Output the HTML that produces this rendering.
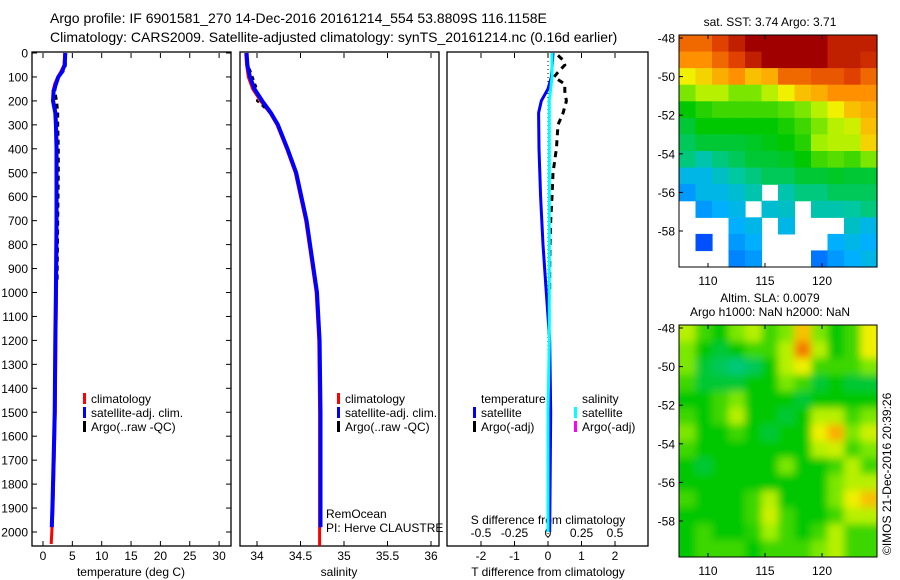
<!DOCTYPE html>
<html><head><meta charset="utf-8"><style>
body{margin:0;background:#fff;}
svg{display:block;font-family:"Liberation Sans",sans-serif;}
text{font-size:12px;fill:#000;}
</style></head><body>
<svg id="chart" width="900" height="580" viewBox="0 0 900 580">
<defs>
<filter id="blur" x="-5%" y="-5%" width="110%" height="110%"><feGaussianBlur stdDeviation="4"/></filter>
<clipPath id="slaclip"><rect x="679" y="325" width="198" height="232"/></clipPath>
</defs>
<text x="50" y="23" style="font-size:14px">Argo profile: IF 6901581_270 14-Dec-2016 20161214_554 53.8809S 116.1158E</text>
<text x="50" y="42" style="font-size:14px">Climatology: CARS2009. Satellite-adjusted climatology: synTS_20161214.nc (0.16d earlier)</text>
<g id="g"></g>
</svg>
<script>
// ---- profile data ----
const tDepth=[0,50,80,100,130,160,200,250,300,400,500,700,1000,1200,1500,1700,1900,2050];
const tempSat=[3.8,3.7,3.2,2.6,2.2,1.8,1.7,2.1,2.2,2.3,2.3,2.3,2.2,2.1,2.0,1.8,1.6,1.5];
const tempClim=[3.7,3.6,3.0,2.5,2.0,1.7,1.8,2.2,2.3,2.4,2.4,2.4,2.3,2.2,2.1,1.9,1.7,1.4];
const argoDepth=[0,50,70,90,130,160,200,250,300,400,500,700,960];
const argoTemp=[3.8,3.8,3.7,2.8,2.2,2.0,2.3,2.5,2.5,2.6,2.6,2.5,2.4];
const sDepth=[0,50,100,150,200,250,300,400,500,700,1000,1200,1500,1980];
const salSat=[33.88,33.89,33.92,33.97,34.06,34.16,34.24,34.35,34.45,34.57,34.69,34.72,34.73,34.73];
const salClim=[33.87,33.88,33.9,33.95,34.04,34.15,34.23,34.34,34.44,34.56,34.68,34.71,34.72,34.72];
const argoSal=[33.88,33.9,33.95,34.0,34.0,34.15,34.24,34.36,34.46,34.57,34.68];
const argoSalDepth=[0,50,100,150,200,250,300,400,500,700,1000];
const dDepth=[0,100,150,200,250,400,600,800,1000,1200,1500,2000];
const tDiffSat=[0.15,0.1,0,-0.2,-0.28,-0.27,-0.22,-0.15,-0.05,0.05,0.08,0.05];
const sDiffSat=[0.03,0.03,0.02,0.01,0.01,0.01,0.01,0.01,0.01,0.01,0.0,0.0];
const aDiffDepth=[10,30,50,80,100,130,160,200,250,300,400,500,600,700,800,900,1000];
const tDiffArgo=[0.3,0.45,0.5,0.3,0.18,0.5,0.5,0.55,0.45,0.3,0.25,0.15,0.12,0.08,0.06,0.05,0.05];
const depthTicks=[0,100,200,300,400,500,600,700,800,900,1000,1100,1200,1300,1400,1500,1600,1700,1800,1900,2000];
const tempTicks=[0,5,10,15,20,25,30];
const salTicks=[34,34.5,35,35.5,36];
const tDiffTicks=[-2,-1,0,1,2];
const sDiffTicks=["-0.5","-0.25","0","0.25","0.5"];
// ---- map data ----
const latTicks=[-48,-50,-52,-54,-56,-58];
const lonTicks=[110,115,120];
const sstGrid=[
[0.8,0.8,0.85,0.9,0.95,0.95,0.95,0.95,0.95,0.9,0.9,0.9],
[0.75,0.75,0.8,0.85,0.9,0.95,0.95,0.95,0.95,0.9,0.9,0.88],
[0.65,0.68,0.72,0.75,0.7,0.72,0.8,0.8,0.82,0.82,0.85,0.8],
[0.55,0.6,0.6,0.55,0.55,0.6,0.65,0.7,0.72,0.75,0.75,0.75],
[0.45,0.48,0.5,0.5,0.5,0.5,0.52,0.55,0.6,0.65,0.7,0.72],
[0.42,0.45,0.45,0.45,0.45,0.45,0.47,0.5,0.55,0.6,0.62,0.7],
[0.4,0.42,0.42,0.42,0.43,0.44,0.45,0.48,0.58,0.6,0.6,0.68],
[0.38,0.35,0.38,0.4,0.42,0.42,0.43,0.45,0.5,0.52,0.5,0.55],
[0.3,0.3,0.33,0.36,0.38,0.4,0.4,0.42,0.42,0.43,0.42,0.42],
[0.25,0.3,0.3,0.32,0.35,null,0.35,0.38,0.38,0.4,0.4,0.4],
[null,0.25,0.28,0.3,null,0.32,0.33,null,0.35,0.35,0.36,0.38],
[null,null,null,0.28,0.3,null,0.3,null,null,null,0.33,0.3],
[null,0.15,null,0.25,0.28,null,null,null,null,0.28,0.3,0.28],
[null,null,null,0.22,0.25,null,null,null,0.2,0.25,0.28,0.3]];
const slaGrid=[
[0.6,0.5,0.45,0.55,0.6,0.5,0.55,0.7,0.55,0.45,0.5,0.65],
[0.55,0.45,0.42,0.45,0.5,0.5,0.6,0.78,0.6,0.45,0.5,0.65],
[0.55,0.42,0.4,0.38,0.4,0.45,0.6,0.65,0.5,0.5,0.5,0.55],
[0.5,0.42,0.42,0.42,0.45,0.45,0.55,0.5,0.42,0.45,0.42,0.42],
[0.45,0.45,0.5,0.55,0.45,0.45,0.45,0.42,0.45,0.45,0.45,0.45],
[0.5,0.45,0.5,0.6,0.45,0.45,0.42,0.45,0.6,0.6,0.5,0.55],
[0.55,0.45,0.45,0.5,0.45,0.42,0.45,0.45,0.65,0.72,0.55,0.62],
[0.5,0.45,0.45,0.45,0.45,0.45,0.45,0.45,0.6,0.62,0.5,0.55],
[0.45,0.42,0.45,0.45,0.45,0.45,0.55,0.45,0.45,0.5,0.6,0.5],
[0.45,0.45,0.45,0.45,0.45,0.45,0.45,0.45,0.45,0.55,0.6,0.6],
[0.5,0.45,0.45,0.45,0.5,0.6,0.45,0.45,0.45,0.55,0.65,0.7],
[0.45,0.45,0.45,0.45,0.5,0.62,0.5,0.45,0.45,0.5,0.6,0.6],
[0.45,0.5,0.45,0.45,0.48,0.58,0.5,0.45,0.5,0.6,0.5,0.5],
[0.45,0.5,0.5,0.5,0.45,0.5,0.5,0.5,0.55,0.6,0.5,0.5]];

const NS="http://www.w3.org/2000/svg";
const G=document.getElementById('g');
function mk(tag,attrs,parent,txt){const e=document.createElementNS(NS,tag);for(const k in attrs)e.setAttribute(k,attrs[k]);if(txt!==undefined)e.textContent=txt;(parent||G).appendChild(e);return e;}
const TOP=53,BOT=546;
const yD=d=>53+d*0.2395;
const xT=v=>43+v*5.87;
const xS=v=>257+(v-34)*87;
const xTd=v=>548+v*33.5;
const xSd=v=>548+v*134;

function frame(x0,x1,name){
  const r=mk('rect',{x:x0,y:TOP-1,width:x1-x0,height:BOT-TOP+1,fill:'none',stroke:'#000','stroke-width':1.3});
  
  
}
function line(xs,ds,fx,color,w,dash,name){
  const p=xs.map((v,i)=>fx(v).toFixed(1)+','+yD(ds[i]).toFixed(1)).join(' ');
  const a={points:p,fill:'none',stroke:color,'stroke-width':w};
  if(dash)a['stroke-dasharray']=dash;
  const e=mk('polyline',a);
  
  
}
function xticks(vals,fx,labels,ylab,x0,x1,name){
  vals.forEach((v,i)=>{const x=fx(v);
    mk('line',{x1:x,x2:x,y1:BOT,y2:BOT-5,stroke:'#000'});
    mk('line',{x1:x,x2:x,y1:TOP,y2:TOP+5,stroke:'#000'});
    const t=mk('text',{x:x,y:ylab,'text-anchor':'middle'},G,labels?labels[i]:String(v));
    
    
  });
}
frame(32,231,'temperature-panel');frame(240,439,'salinity-panel');frame(447,648,'difference-panel');
depthTicks.forEach(d=>{const y=yD(d);
  mk('line',{x1:32,x2:37,y1:y,y2:y,stroke:'#000'});mk('line',{x1:226,x2:231,y1:y,y2:y,stroke:'#000'});
  const t=mk('text',{x:28,y:y+4.5,'text-anchor':'end'},G,String(d));
  
  
});
xticks(tempTicks,xT,null,560,32,231,'temperature');
xticks(salTicks,xS,null,560,240,439,'salinity');
xticks(tDiffTicks,xTd,null,560,447,648,'t-diff');
sDiffTicks.forEach((s,i)=>{const t=mk('text',{x:xSd(parseFloat(s)),y:537,'text-anchor':'middle'},G,s);
  
  });
[['temperature (deg C)',131,'temperature-axis-title'],['salinity',339,'salinity-axis-title'],['T difference from climatology',548,'t-diff-axis-title']].forEach(a=>{
  const t=mk('text',{x:a[1],y:576,'text-anchor':'middle'},G,a[0]);
  
  });
{const t=mk('text',{x:548,y:524,'text-anchor':'middle'},G,'S difference from climatology');
 }
line(tempClim,tDepth,xT,'#f00',3,null,'temp-climatology-line');
line(argoTemp,argoDepth,xT,'#000',3,'5,4','temp-argo-line');
line(tempSat,tDepth.slice(0,17).concat([1980]),xT,'#00f',4,null,'temp-satellite-line');
line(salClim,sDepth.slice(0,13).concat([2058]),xS,'#f00',3,null,'sal-climatology-line');
line(argoSal,argoSalDepth,xS,'#000',2,'4,4','sal-argo-line');
line(salSat,sDepth,xS,'#00f',4,null,'sal-satellite-line');
mk('line',{x1:548,x2:548,y1:TOP,y2:BOT,stroke:'#000','stroke-dasharray':'1,3'});
line(tDiffArgo,aDiffDepth,xTd,'#000',3,'6,5','t-diff-argo-line');
line(tDiffSat,dDepth,xTd,'#00f',3,null,'t-diff-satellite-line');
line(sDiffSat,dDepth,xSd,'#0ff',3,null,'s-diff-satellite-line');
function leg(x,y,color,label,name){
  mk('rect',{x:x,y:y-10,width:3,height:11,fill:color});
  const t=mk('text',{x:x+8,y:y},G,label);
  
  
}
leg(83,403,'#f00','climatology','legend-temp-climatology');
leg(83,417,'#00f','satellite-adj. clim.','legend-temp-satellite');
leg(83,431,'#000','Argo(..raw -QC)','legend-temp-argo');
leg(337,403,'#f00','climatology','legend-sal-climatology');
leg(337,417,'#00f','satellite-adj. clim.','legend-sal-satellite');
leg(337,431,'#000','Argo(..raw -QC)','legend-sal-argo');
{const t=mk('text',{x:481,y:403},G,'temperature');}
{const t=mk('text',{x:582,y:403},G,'salinity');}
leg(473,417,'#00f','satellite','legend-tdiff-satellite');
leg(473,431,'#000','Argo(-adj)','legend-tdiff-argo');
leg(574,417,'#0ff','satellite','legend-sdiff-satellite');
leg(574,431,'#f0f','Argo(-adj)','legend-sdiff-argo');
{const t=mk('text',{x:326,y:518},G,'RemOcean');}
{const t=mk('text',{x:326,y:532},G,'PI: Herve CLAUSTRE');}
const stops=[[0,[0,0,128]],[0.15,[0,80,255]],[0.28,[0,176,255]],[0.36,[0,200,160]],[0.45,[0,200,0]],[0.58,[160,240,0]],[0.65,[240,240,0]],[0.75,[255,144,0]],[0.85,[224,64,0]],[0.95,[160,0,0]],[1,[140,0,0]]];
function cmap(v){for(let i=1;i<stops.length;i++){if(v<=stops[i][0]){const a=stops[i-1],b=stops[i];const f=(v-a[0])/(b[0]-a[0]);const c=a[1].map((q,k)=>Math.round(q+(b[1][k]-q)*f));return 'rgb('+c.join(',')+')';}}return 'rgb(140,0,0)';}
function drawMap(grid,x0,x1,y0,y1,latRef,name,smooth){
  const rows=grid.length,cols=grid[0].length,cw=(x1-x0)/cols,ch=(y1-y0)/rows;
  let gm=mk('g',smooth?{'clip-path':'url(#slaclip)'}:{});
  
  
  let inner=gm;
  if(smooth){inner=mk('g',{filter:'url(#blur)'},gm);
    mk('rect',{x:x0-10,y:y0-10,width:x1-x0+20,height:y1-y0+20,fill:cmap(0.45)},inner);}
  grid.forEach((row,r)=>row.forEach((v,c)=>{if(v===null)return;
    const pad=smooth?6:0;
    const cell=mk('rect',{x:(x0+c*cw-(c===0?pad:0)).toFixed(1),y:(y0+r*ch-(r===0?pad:0)).toFixed(1),width:(cw+0.6+(c===0||c===cols-1?pad:0)).toFixed(1),height:(ch+0.6+(r===0||r===rows-1?pad:0)).toFixed(1),fill:cmap(v)},inner);
    
    
  }));
  mk('rect',{x:x0,y:y0,width:x1-x0,height:y1-y0,fill:'none',stroke:'#000','stroke-width':1});
  const fy=la=>latRef+(-48-la)*19.3;
  const fx=lo=>708+(lo-110)*11.4;
  latTicks.forEach(la=>{const y=fy(la);mk('line',{x1:x0,x2:x0+4,y1:y,y2:y,stroke:'#000'});
    const t=mk('text',{x:x0-4,y:y+4.5,'text-anchor':'end'},G,String(la));
    });
  lonTicks.forEach(lo=>{const x=fx(lo);mk('line',{x1:x,x2:x,y1:y1,y2:y1-4,stroke:'#000'});mk('line',{x1:x,x2:x,y1:y0,y2:y0+4,stroke:'#000'});
    const t=mk('text',{x:x,y:y1+18,'text-anchor':'middle'},G,String(lo));
    });
}
drawMap(sstGrid,679,877,35,267,38,'sst-map',false);
drawMap(slaGrid,679,877,325,557,328,'sla-map',true);
[['sat. SST: 3.74  Argo: 3.71',770,26,'sst-map-title'],['Altim. SLA: 0.0079',770,302,'sla-map-title'],['Argo h1000: NaN h2000: NaN',770,316,'sla-map-subtitle']].forEach(a=>{
  const t=mk('text',{x:a[1],y:a[2],'text-anchor':'middle',style:'font-size:12px'},G,a[0]);
  });
{const t=mk('text',{x:891,y:555,transform:'rotate(-90 891 555)',style:'font-size:12px'},G,'©IMOS 21-Dec-2016 20:39:26');
 }
</script>
</body></html>
